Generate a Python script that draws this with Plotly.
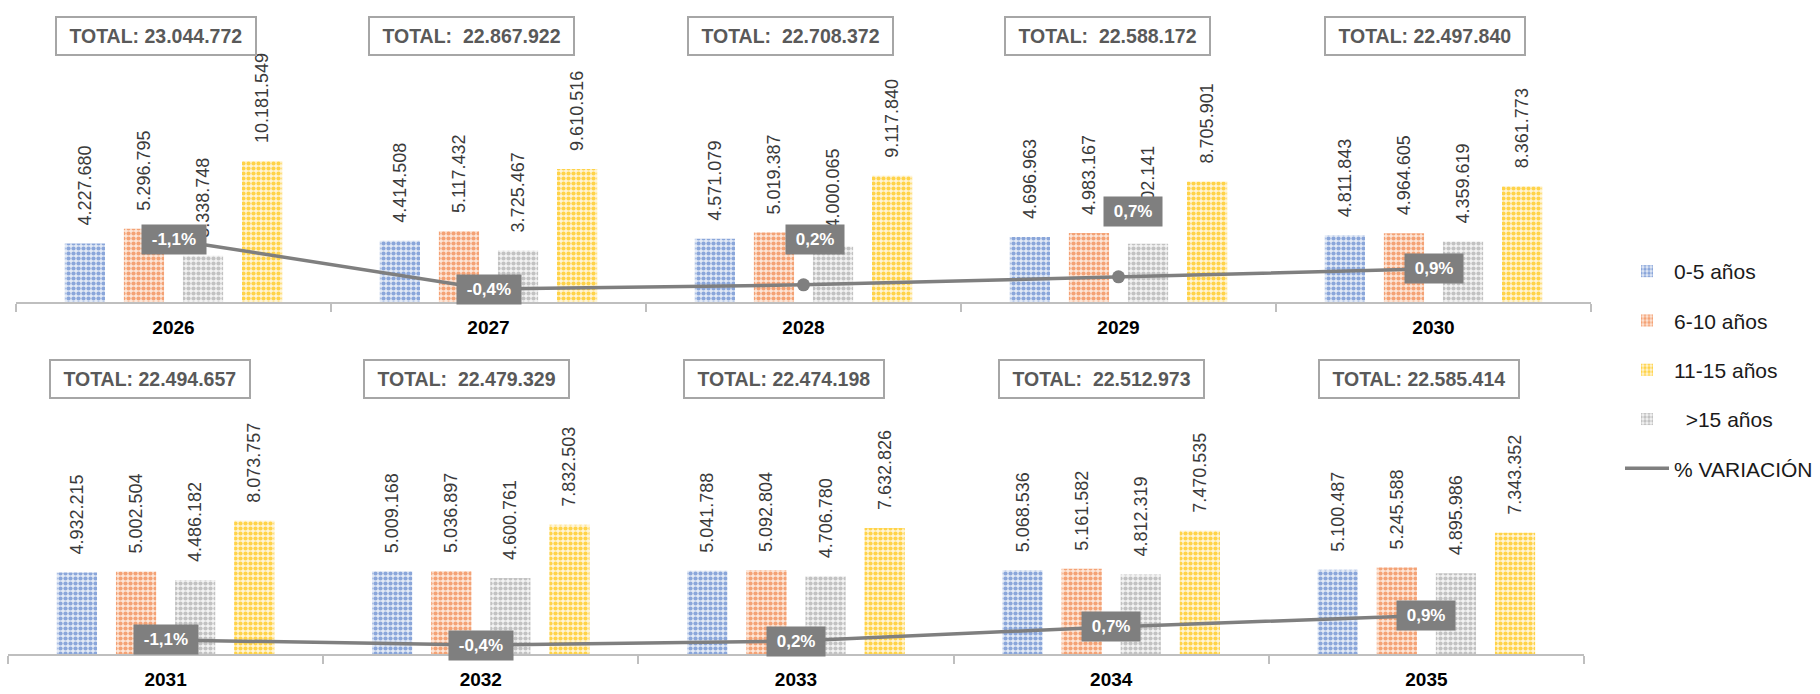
import plotly.graph_objects as go

# ---------------- data ----------------
anios_sup = ["2026", "2027", "2028", "2029", "2030"]
anios_inf = ["2031", "2032", "2033", "2034", "2035"]

g0_5_sup = [4227680, 4414508, 4571079, 4696963, 4811843]
g6_10_sup = [5296795, 5117432, 5019387, 4983167, 4964605]
g15_sup = [3338748, 3725467, 4000065, 4202141, 4359619]
g11_15_sup = [10181549, 9610516, 9117840, 8705901, 8361773]

g0_5_inf = [4932215, 5009168, 5041788, 5068536, 5100487]
g6_10_inf = [5002504, 5036897, 5092804, 5161582, 5245588]
g15_inf = [4486182, 4600761, 4706780, 4812319, 4895986]
g11_15_inf = [8073757, 7832503, 7632826, 7470535, 7343352]

totales_sup = ["TOTAL: 23.044.772", "TOTAL:\u00a0 22.867.922", "TOTAL:\u00a0 22.708.372",
               "TOTAL:\u00a0 22.588.172", "TOTAL: 22.497.840"]
totales_inf = ["TOTAL: 22.494.657", "TOTAL:\u00a0 22.479.329", "TOTAL: 22.474.198",
               "TOTAL:\u00a0 22.512.973", "TOTAL: 22.585.414"]

# % variation: label text and the line height as drawn (hidden secondary axis 0-10)
variacion_etiqueta = ["-1,1%", "-0,4%", "0,2%", "0,7%", "0,9%"]
variacion_linea_sup = [2.17, 0.45, 0.60, 0.88, 1.16]
variacion_linea_inf = [0.49, 0.31, 0.45, 0.94, 1.34]

series = [
    ("0-5 años", "#8aa6da", "#e3eaf6", 1),
    ("6-10 años", "#f4a275", "#fde6d8", 2),
    ("\u00a0\u00a0>15 años", "#c2c2c2", "#f3f3f3", 4),
    ("11-15 años", "#ffd348", "#fff5d6", 3),
]
vals_sup = [g0_5_sup, g6_10_sup, g15_sup, g11_15_sup]
vals_inf = [g0_5_inf, g6_10_inf, g15_inf, g11_15_inf]

FONT = "Liberation Sans, Arial, sans-serif"
W, H = 1820, 694


def fmt(v):
    return "\u00a0\u00a0\u00a0" + f"{v:,}".replace(",", ".")


fig = go.Figure()

for (name, fg, bg, rank), vs, vi in zip(series, vals_sup, vals_inf):
    for cats, vals, xa, ya, show in [
        (anios_sup, vs, "x", "y", True),
        (anios_inf, vi, "x2", "y2", False),
    ]:
        fig.add_trace(go.Bar(
            x=cats, y=vals, name=name, xaxis=xa, yaxis=ya,
            showlegend=show, legendrank=rank, legendgroup=name,
            marker=dict(color=fg, line=dict(width=0),
                        pattern=dict(shape=".", size=5, solidity=0.55,
                                     fgcolor=fg, bgcolor=bg, fillmode="replace")),
            text=[fmt(v) for v in vals], textposition="outside", textangle=-90,
            textfont=dict(family=FONT, size=18, color="#3a3a3a"),
            cliponaxis=False, constraintext="none", hoverinfo="skip",
        ))

for cats, vals, xa, ya, show in [
    (anios_sup, variacion_linea_sup, "x", "y3", True),
    (anios_inf, variacion_linea_inf, "x2", "y4", False),
]:
    fig.add_trace(go.Scatter(
        x=cats, y=vals, xaxis=xa, yaxis=ya, mode="lines",
        name="% VARIACIÓN", showlegend=show, legendrank=5, legendgroup="var",
        line=dict(color="#7f7f7f", width=3.5), cliponaxis=False, hoverinfo="skip",
    ))
    fig.add_trace(go.Scatter(
        x=cats, y=vals, xaxis=xa, yaxis=ya, mode="markers",
        showlegend=False, legendgroup="var",
        marker=dict(color="#7f7f7f", size=13), cliponaxis=False, hoverinfo="skip",
    ))

annotations = []
shift_tot_sup = [-18, -17, -13, -11, -9]
shift_tot_inf = [-16, -14, -12, -10, -7]
for cats, tots, xr, ypix, shifts in [
    (anios_sup, totales_sup, "x", 36, shift_tot_sup),
    (anios_inf, totales_inf, "x2", 378.5, shift_tot_inf),
]:
    for i, (t, s) in enumerate(zip(tots, shifts)):
        annotations.append(dict(
            x=i, xref=xr, y=1 - ypix / H, yref="paper", yanchor="middle",
            text="\u00a0" + t + "\u00a0", showarrow=False, xshift=s,
            font=dict(family=FONT, size=19.5, color="#595959", weight="bold"),
            bordercolor="#a6a6a6", borderwidth=2, borderpad=7, bgcolor="rgba(255,255,255,0)",
        ))

lbl_shift_sup = [(0, 0), (0, 0), (11, 45), (14, 65), (0, 0)]
for cats, vals, xr, yr, shifts in [
    (anios_sup, variacion_linea_sup, "x", "y3", lbl_shift_sup),
    (anios_inf, variacion_linea_inf, "x2", "y4", [(0, 0)] * 5),
]:
    for i, (v, t, (sx, sy)) in enumerate(zip(vals, variacion_etiqueta, shifts)):
        annotations.append(dict(
            x=i, xref=xr, y=v, yref=yr, text="\u00a0" + t + "\u00a0",
            showarrow=False, xshift=sx, yshift=sy,
            font=dict(family=FONT, size=17, color="white", weight="bold"),
            bgcolor="#7f7f7f", borderpad=5,
        ))

xcommon = dict(type="category", showline=True, linecolor="#bfbfbf", linewidth=2,
               ticks="outside", tickson="boundaries", ticklen=8, tickcolor="#bfbfbf",
               tickwidth=2, showgrid=False, zeroline=False, ticklabelstandoff=7,
               range=[-0.5, 4.5], autorange=False, tickangle=0,
               tickfont=dict(family=FONT, size=19, color="black", weight="bold"))
yhidden = dict(visible=False, showgrid=False, zeroline=False, autorange=False)

fig.update_layout(
    width=W, height=H, margin=dict(l=0, r=0, t=0, b=0),
    paper_bgcolor="white", plot_bgcolor="white",
    barmode="group", bargap=0.25, bargroupgap=0.32,
    xaxis=dict(xcommon, domain=[16 / W, 1591 / W], anchor="y",
               categoryorder="array", categoryarray=anios_sup),
    xaxis2=dict(xcommon, domain=[8 / W, 1584 / W], anchor="y2",
                categoryorder="array", categoryarray=anios_inf),
    yaxis=dict(yhidden, domain=[1 - 302 / H, 1 - 16 / H], range=[0, 286 / 13.85 * 1e6]),
    yaxis2=dict(yhidden, domain=[1 - 654 / H, 1 - 366 / H], range=[0, 288 / 16.5 * 1e6]),
    yaxis3=dict(yhidden, overlaying="y", range=[0, 10]),
    yaxis4=dict(yhidden, overlaying="y2", range=[0, 10]),
    annotations=annotations,
    showlegend=True,
    legend=dict(x=1620 / W, xanchor="left", y=1 - 370 / H, yanchor="middle",
                font=dict(family=FONT, size=21, color="#1a1a1a"),
                itemwidth=44, tracegroupgap=19, traceorder="grouped",
                bgcolor="rgba(0,0,0,0)"),
)

fig.write_html("out.html", config={"displayModeBar": False},
               post_script="document.body.style.margin='0px';")
